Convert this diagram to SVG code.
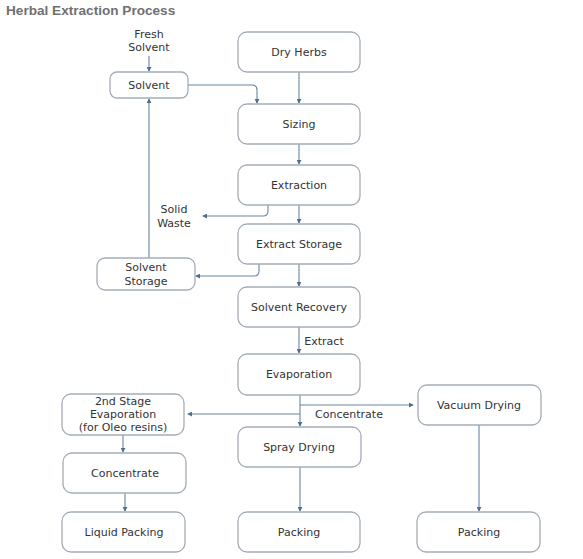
<svg xmlns="http://www.w3.org/2000/svg" width="583" height="559" viewBox="0 0 583 559">
<defs>
<marker id="ah" viewBox="0 0 6 6" refX="5" refY="3" markerWidth="5" markerHeight="5" orient="auto" markerUnits="userSpaceOnUse">
<path d="M0,0 L6,3 L0,6 z" fill="#4f6f8f"/>
</marker>
<style>
.n rect{fill:#fff;stroke:#a4adb6;stroke-width:1.3}
.n text,.lbl{font-family:"DejaVu Sans",Verdana,sans-serif;font-size:11px;fill:#333;text-anchor:middle}
.c path{fill:none;stroke:#6a86a2;stroke-width:1.1;marker-end:url(#ah)}
.title{font-family:"Liberation Sans",Arial,sans-serif;font-weight:bold;font-size:13.6px;fill:#707070}
</style>
</defs>
<rect width="583" height="559" fill="#fff"/>
<text class="title" x="6" y="15">Herbal Extraction Process</text>

<g class="c" id="connectors">
<path d="M149,56 V71"/>
<path d="M188,85 H252 Q257,85 257,90 V103"/>
<path d="M299,72 V103"/>
<path d="M299,144 V164"/>
<path d="M299,205 V223"/>
<path d="M268,205 V211 Q268,216 263,216 H203"/>
<path d="M299,264 V286"/>
<path d="M259,264 V271 Q259,276 254,276 H196"/>
<path d="M149,258 V99"/>
<path d="M299,327 V353"/>
<path d="M300,395 V426"/>
<path d="M300,405 H413"/>
<path d="M300,414 H188"/>
<path d="M123,435 V452"/>
<path d="M125,493 V511"/>
<path d="M300,467 V511"/>
<path d="M479,425 V511"/>
</g>

<text class="lbl" x="149" y="38">Fresh</text>
<text class="lbl" x="149" y="51">Solvent</text>
<text class="lbl" x="174" y="213">Solid</text>
<text class="lbl" x="174" y="227">Waste</text>
<text class="lbl" x="324" y="345">Extract</text>
<text class="lbl" x="349" y="418">Concentrate</text>

<g class="n" id="solvent"><rect x="110" y="72" width="78" height="26" rx="7"/><text x="149" y="89">Solvent</text></g>
<g class="n" id="dry-herbs"><rect x="238" y="32" width="122" height="40" rx="9"/><text x="299" y="56">Dry Herbs</text></g>
<g class="n" id="sizing"><rect x="238" y="104" width="122" height="40" rx="9"/><text x="299" y="128">Sizing</text></g>
<g class="n" id="extraction"><rect x="238" y="165" width="122" height="40" rx="9"/><text x="299" y="189">Extraction</text></g>
<g class="n" id="extract-storage"><rect x="238" y="224" width="122" height="40" rx="9"/><text x="299" y="248">Extract Storage</text></g>
<g class="n" id="solvent-storage"><rect x="97" y="258" width="98" height="32" rx="8"/><text x="146" y="271">Solvent</text><text x="146" y="285">Storage</text></g>
<g class="n" id="solvent-recovery"><rect x="238" y="287" width="122" height="40" rx="9"/><text x="299" y="311">Solvent Recovery</text></g>
<g class="n" id="evaporation"><rect x="238" y="354" width="122" height="41" rx="9"/><text x="299" y="378">Evaporation</text></g>
<g class="n" id="second-stage"><rect x="62" y="394" width="122" height="41" rx="9"/><text x="123" y="405">2nd Stage</text><text x="123" y="418">Evaporation</text><text x="123" y="431">(for Oleo resins)</text></g>
<g class="n" id="vacuum-drying"><rect x="418" y="385" width="123" height="40" rx="9"/><text x="479" y="409">Vacuum Drying</text></g>
<g class="n" id="spray-drying"><rect x="238" y="427" width="123" height="40" rx="9"/><text x="299" y="451">Spray Drying</text></g>
<g class="n" id="concentrate"><rect x="63" y="453" width="123" height="40" rx="9"/><text x="125" y="477">Concentrate</text></g>
<g class="n" id="liquid-packing"><rect x="62" y="512" width="123" height="40" rx="9"/><text x="124" y="536">Liquid Packing</text></g>
<g class="n" id="packing-center"><rect x="238" y="512" width="122" height="40" rx="9"/><text x="299" y="536">Packing</text></g>
<g class="n" id="packing-right"><rect x="417" y="512" width="123" height="40" rx="9"/><text x="479" y="536">Packing</text></g>
</svg>
